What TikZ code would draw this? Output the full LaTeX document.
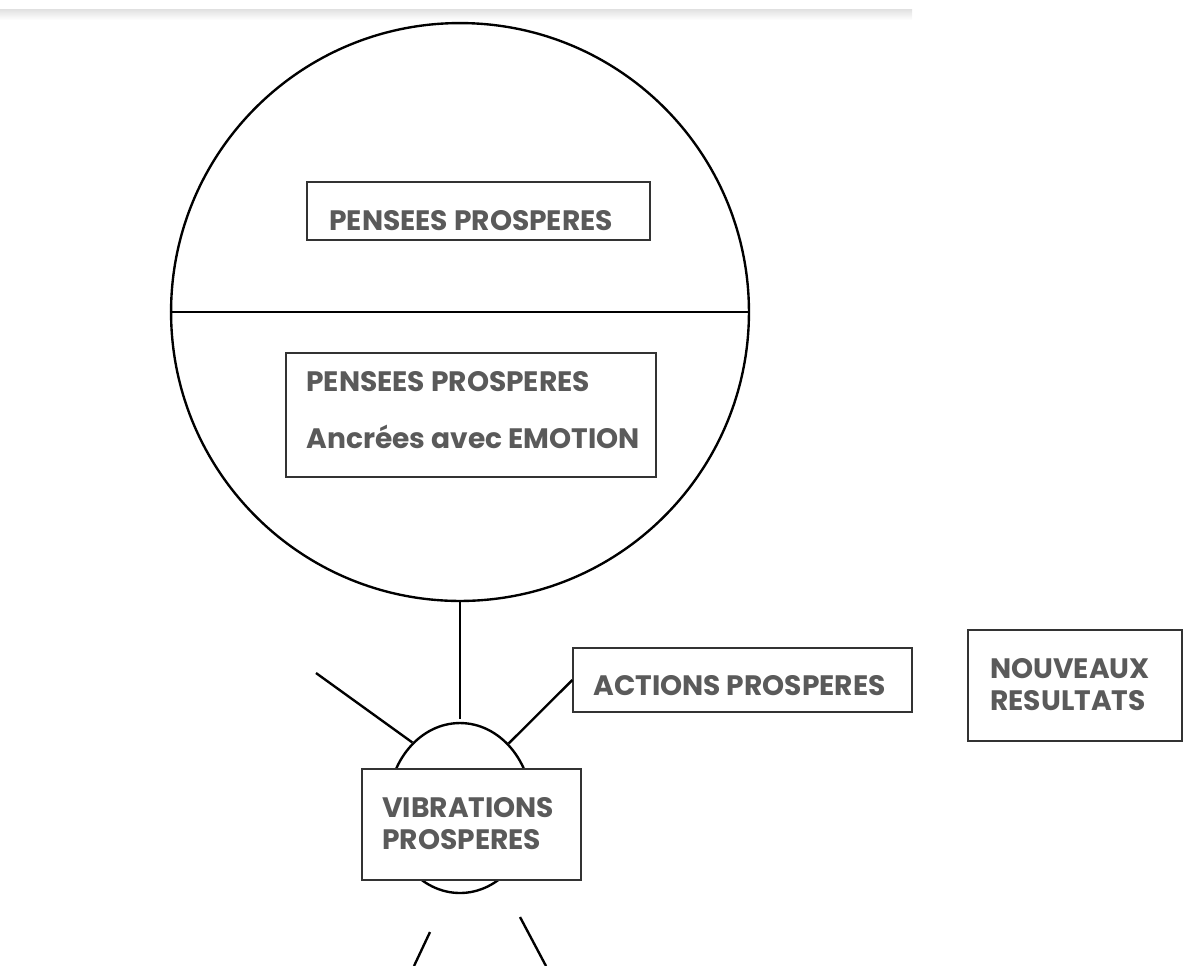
\documentclass[tikz,border=0pt]{standalone}
\usepackage{fontspec}
\setmainfont{Poppins}
\usetikzlibrary{shapes.geometric}
\definecolor{txt}{HTML}{5A5A5A}
\definecolor{frame}{HTML}{333333}
\begin{document}
\begin{tikzpicture}[x=0.02cm,y=-0.02cm,
  box/.style={draw=frame, line width=0.8pt, fill=white, inner sep=0pt},
  lbl/.style={text=txt, font=\fontsize{16}{19}\selectfont\bfseries, inner sep=0pt, anchor=base west},
  wire/.style={line width=1.35pt, black}]
\useasboundingbox (0,0) rectangle (1195,965);
% faint top band
\shade[top color=black!12, bottom color=white] (0,9) rectangle (912,20);
% big circle
\node[draw, circle, line width=1.35pt, minimum size=11.56cm, inner sep=0pt] (big) at (460,312) {};
\draw[wire] (big.west) -- (big.east);
% upper box
\node[box, minimum width=6.86cm, minimum height=1.16cm] (b1) at (478.5,211) {};
\node[lbl] (t1) at (329,230) {PENSEES PROSPERES};
% lower box
\node[box, minimum width=7.4cm, minimum height=2.48cm] (b2) at (471,415) {};
\node[lbl] (t2) at (306,391) {PENSEES PROSPERES};
\node[lbl] (t3) at (306,448) {Ancrées avec EMOTION};
% small ellipse
\node[draw, ellipse, line width=1.35pt, minimum width=2.88cm, minimum height=3.4cm, inner sep=0pt] (small) at (460,808) {};
% actions box
\node[box, minimum width=6.78cm, minimum height=1.28cm] (act) at (742.5,680) {};
\node[lbl] (t4) at (593,695) {ACTIONS PROSPERES};
% nouveaux box
\node[box, minimum width=4.28cm, minimum height=2.22cm] (nouv) at (1075,685.5) {};
\node[lbl] (t5) at (990,678) {NOUVEAUX};
\node[lbl] (t6) at (990,710) {RESULTATS};
% connectors
\coordinate (ul) at (316,673);
\draw[wire] (ul) -- (small.126);
\draw[wire, shorten >=0.06cm] (big.south) -- (small.north);
\draw[wire] (small.53) -- (act.west);
\coordinate (bl1) at (430,932);
\coordinate (bl2) at (414,966);
\coordinate (br1) at (520,917);
\coordinate (br2) at (546,966);
\draw[wire] (bl1) -- (bl2);
\draw[wire] (br1) -- (br2);
% vibrations box
\node[box, minimum width=4.38cm, minimum height=2.22cm] (vib) at (471.5,824.5) {};
\node[lbl] (t7) at (382,817) {VIBRATIONS};
\node[lbl] (t8) at (382,849) {PROSPERES};
\end{tikzpicture}
\end{document}
